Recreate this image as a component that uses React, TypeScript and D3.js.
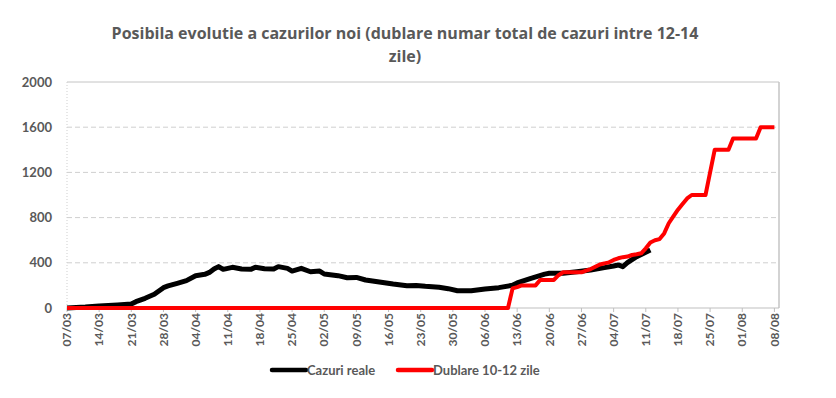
import * as d3 from 'd3';

// Cazuri reale (zi/luna 2020)
const realDates = [
  '07/03', '11/03', '14/03', '18/03', '21/03', '22/03', '24/03', '26/03', '28/03', '29/03',
  '31/03', '02/04', '04/04', '06/04', '07/04', '08/04', '09/04', '10/04', '12/04', '14/04',
  '16/04', '17/04', '19/04', '21/04', '22/04', '24/04', '25/04', '27/04', '29/04', '01/05',
  '02/05', '05/05', '07/05', '09/05', '11/05', '14/05', '17/05', '20/05', '22/05', '24/05',
  '27/05', '29/05', '31/05', '03/06', '06/06', '09/06', '12/06', '13/06', '16/06', '19/06',
  '20/06', '23/06', '26/06', '29/06', '02/07', '04/07', '05/07', '06/07', '07/07', '09/07',
  '12/07',
];
const realValues = [
  0, 8, 18, 27, 35, 56, 86, 121, 180, 195,
  218, 242, 286, 298, 315, 345, 366, 342, 360, 345,
  342, 360, 348, 345, 366, 351, 327, 351, 321, 327,
  301, 286, 268, 271, 248, 230, 212, 197, 200, 192,
  183, 171, 153, 153, 168, 180, 201, 222, 263, 300,
  307, 307, 321, 336, 357, 372, 381, 366, 401, 454,
  513,
];

// Dublare 10-12 zile
const dubDates = [
  '07/03', '11/06', '12/06', '13/06', '14/06', '17/06', '18/06', '21/06', '22/06', '23/06',
  '27/06', '28/06', '29/06', '30/06', '01/07', '02/07', '03/07', '04/07', '05/07', '06/07',
  '07/07', '08/07', '09/07', '10/07', '11/07', '12/07', '13/07', '14/07', '15/07', '16/07',
  '17/07', '18/07', '19/07', '20/07', '21/07', '24/07', '25/07', '26/07', '29/07', '30/07',
  '04/08', '05/08', '08/08',
];
const dubValues = [
  0, 0, 174, 185, 200, 200, 248, 248, 290, 316,
  316, 330, 345, 365, 385, 395, 404, 425, 440, 450,
  455, 469, 475, 484, 528, 580, 600, 610, 660, 750,
  810, 870, 920, 970, 1000, 1000, 1200, 1400, 1400, 1500,
  1500, 1600, 1600,
];

const yTicks = [0, 400, 800, 1200, 1600, 2000];

const seriesNames = ['Cazuri reale', 'Dublare 10-12 zile'];
const seriesColors = ['#000000', '#ff0000'];

const titleLines = [
  'Posibila evolutie a cazurilor noi (dublare numar total de cazuri intre 12-14',
  'zile)',
];

const parse = d3.timeParse('%d/%m/%Y');
const toDate = (s: string) => parse(s + '/2020') as Date;
const fmt = d3.timeFormat('%d/%m');

const W = 836;
const H = 398;
const left = 67;
const right = 779;
const top = 82;
const bottom = 308;

const FONT = 'Lato, "Open Sans", sans-serif';
const GREY = '#595959';

export default function App() {
  const start = toDate('07/03');
  const end = toDate('09/08');
  const x = d3.scaleTime().domain([start, end]).range([left, right]);
  const y = d3.scaleLinear().domain([0, 2000]).range([bottom, top]);
  const xTicks = d3.timeDay.range(start, end, 7);

  const line = d3
    .line<[Date, number]>()
    .x((d) => x(d[0]))
    .y((d) => y(d[1]));

  const real: [Date, number][] = realDates.map((d, i) => [toDate(d), realValues[i]]);
  const dub: [Date, number][] = dubDates.map((d, i) => [toDate(d), dubValues[i]]);

  return (
    <svg
      width={W}
      height={H}
      style={{ position: 'absolute', left: 0, top: 0, background: '#fff' }}
      fontFamily={FONT}
    >
      {titleLines.map((t, i) => (
        <text
          key={i}
          x={405}
          y={39 + i * 23}
          textAnchor="middle"
          fontFamily='"Open Sans", sans-serif'
          fontSize={16}
          fontWeight="bold"
          fill={GREY}
        >
          {t}
        </text>
      ))}

      {/* grid */}
      {yTicks.slice(1, -1).map((t) => (
        <line
          key={t}
          x1={left}
          x2={right}
          y1={y(t)}
          y2={y(t)}
          stroke="#cfcfcf"
          strokeDasharray="5,3"
        />
      ))}
      <line x1={left} x2={right} y1={y(2000)} y2={y(2000)} stroke="#c4c4c4" />
      <line x1={right} x2={right} y1={y(2000)} y2={bottom} stroke="#c4c4c4" strokeWidth={1.5} />
      <line x1={left} x2={left} y1={y(2000)} y2={bottom} stroke="#cfcfcf" strokeDasharray="1,2" />
      <line x1={left} x2={right} y1={bottom} y2={bottom} stroke="#bfbfbf" />

      {yTicks.map((t) => (
        <text
          key={t}
          x={52}
          y={y(t)}
          dy="0.35em"
          textAnchor="end"
          fontSize={13}
          fontWeight="bold"
          fill={GREY}
        >
          {t}
        </text>
      ))}

      {xTicks.map((t) => (
        <g key={+t}>
          <line x1={x(t)} x2={x(t)} y1={bottom} y2={bottom + 4} stroke="#bfbfbf" />
          <text
            transform={`translate(${x(t)},${bottom + 5}) rotate(-90)`}
            dy="0.35em"
            textAnchor="end"
            fontSize={12}
            fontWeight="bold"
            fill={GREY}
          >
            {fmt(t)}
          </text>
        </g>
      ))}

      <path d={line(real) ?? ''} fill="none" stroke={seriesColors[0]} strokeWidth={5} strokeLinejoin="round" />
      <path d={line(dub) ?? ''} fill="none" stroke={seriesColors[1]} strokeWidth={4} strokeLinejoin="round" />

      {/* legend */}
      {seriesNames.map((n, i) => {
        const lx = i === 0 ? 272 : 398;
        return (
          <g key={n}>
            <line
              x1={lx}
              x2={lx + 34}
              y1={370}
              y2={370}
              stroke={seriesColors[i]}
              strokeWidth={4.5}
              strokeLinecap="round"
            />
            <text x={lx + 35} y={370} dy="0.35em" fontSize={13} fontWeight="bold" fill={GREY}>
              {n}
            </text>
          </g>
        );
      })}
    </svg>
  );
}
